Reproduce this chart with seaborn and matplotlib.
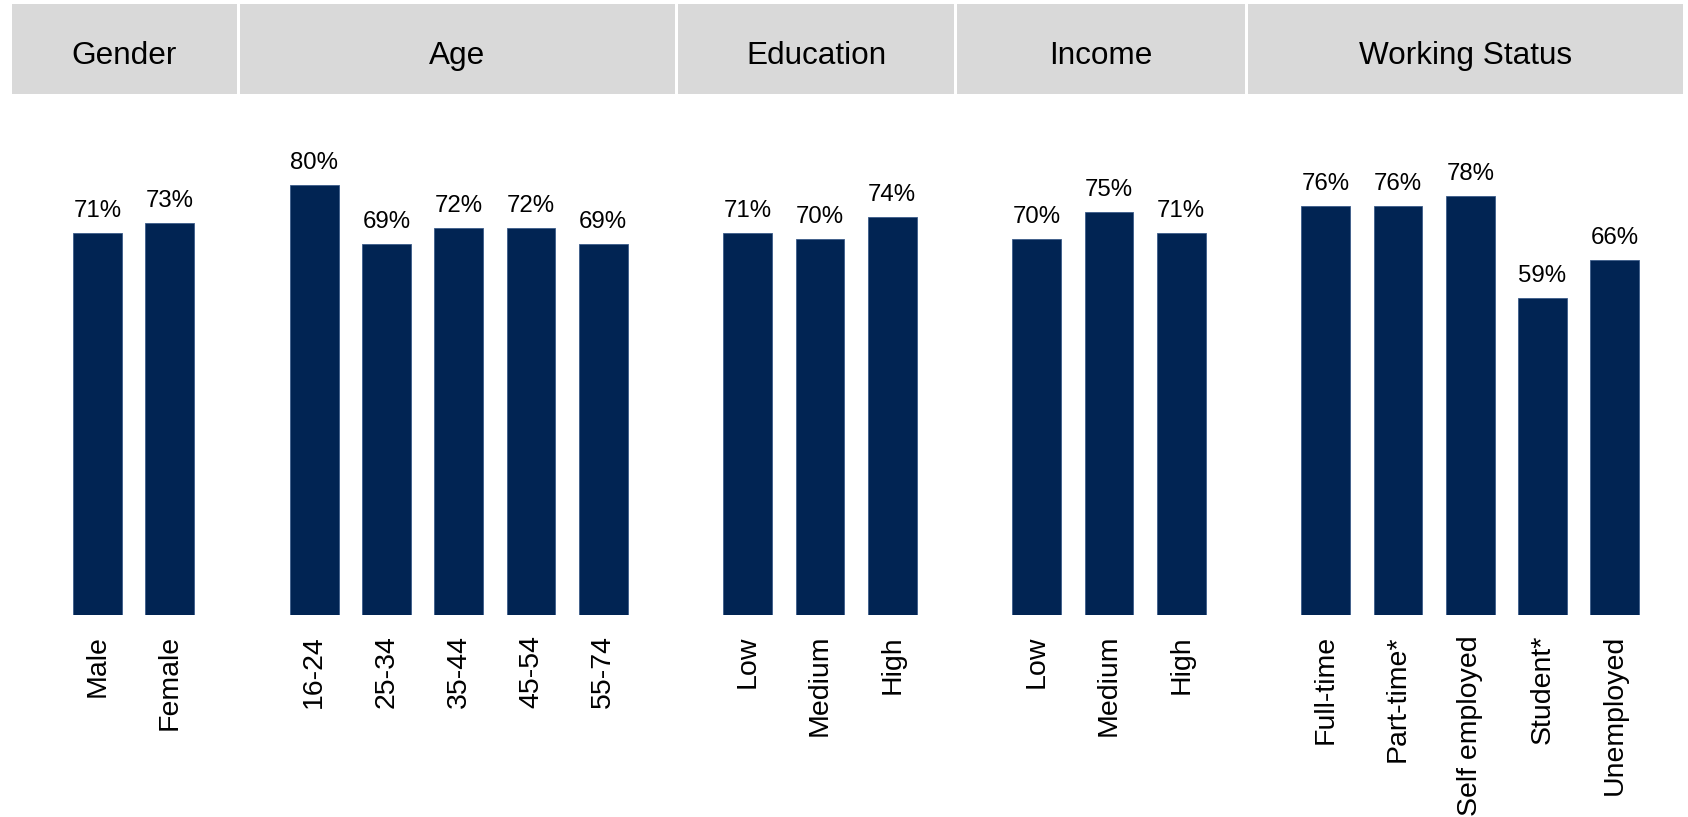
import matplotlib
matplotlib.use("Agg")
import matplotlib.pyplot as plt
from matplotlib.patches import Rectangle
import seaborn as sns
import pandas as pd

# Share of respondents (%) by demographic group
groups = ["Gender", "Age", "Education", "Income", "Working Status"]
gender_labels = ["Male", "Female"]
gender_values = [71, 73]
age_labels = ["16-24", "25-34", "35-44", "45-54", "55-74"]
age_values = [80, 69, 72, 72, 69]
education_labels = ["Low", "Medium", "High"]
education_values = [71, 70, 74]
income_labels = ["Low", "Medium", "High"]
income_values = [70, 75, 71]
work_labels = ["Full-time", "Part-time*", "Self employed", "Student*", "Unemployed"]
work_values = [76, 76, 78, 59, 66]

group_labels = [gender_labels, age_labels, education_labels, income_labels, work_labels]
group_values = [gender_values, age_values, education_values, income_values, work_values]

BAR_COLOR = "#012453"
HEADER_BG = "#D9D9D9"

# Long table with unique keys; an empty slot separates consecutive groups
rows, order, tick_text = [], [], []
for gi, (g, labs, vals) in enumerate(zip(groups, group_labels, group_values)):
    if gi > 0:
        order.append(f"gap{gi}")
        tick_text.append("")
    for lab, v in zip(labs, vals):
        key = f"{g}|{lab}"
        rows.append({"key": key, "value": v, "group": g, "label": lab})
        order.append(key)
        tick_text.append(lab)
df = pd.DataFrame(rows)

sns.set_style("white")
plt.rcParams["font.family"] = ["Liberation Sans", "DejaVu Sans"]

W, H = 1688, 817
fig = plt.figure(figsize=(W / 100, H / 100), dpi=100)

# Axes spans full width; baseline sits 615 px from the top
base_px = 615
ymax = 100
px_per_unit = 5.375
ax = fig.add_axes([0, (H - base_px) / H, 1, ymax * px_per_unit / H])

sns.barplot(data=df, x="key", y="value", order=order, color=BAR_COLOR,
            width=0.674, saturation=1, ax=ax, edgecolor="#3c5c8a", linewidth=0.6)

slot = 72.25
first_center = 97.5
ax.set_xlim(-first_center / slot, (W - first_center) / slot)
ax.set_ylim(0, ymax)

ax.set_xticks(range(len(order)))
ax.set_xticklabels(tick_text, rotation=90, fontsize=20.5, color="black")
ax.tick_params(axis="x", length=0, pad=14.4)
ax.set_yticks([])
ax.set_xlabel("")
ax.set_ylabel("")
for s in ax.spines.values():
    s.set_visible(False)
ax.patch.set_alpha(0)

# Value labels above each bar
for container in ax.containers:
    for bar in container:
        h = bar.get_height()
        if h != h or h == 0:
            continue
        ax.annotate(f"{h:.0f}%", (bar.get_x() + bar.get_width() / 2, h),
                    xytext=(0, 16), textcoords="offset pixels",
                    ha="center", va="baseline", fontsize=17.3, color="black")

# Header band with one grey cell per group
header_edges = [(12, 237), (240, 675), (678, 954), (957, 1245), (1248, 1683)]
top_px, bottom_px = 4, 94
text_baseline_px = 64
for g, (x0, x1) in zip(groups, header_edges):
    fig.patches.append(Rectangle((x0 / W, 1 - bottom_px / H), (x1 - x0) / W,
                                 (bottom_px - top_px) / H, transform=fig.transFigure,
                                 facecolor=HEADER_BG, edgecolor="none", zorder=0))
    fig.text((x0 + x1) / 2 / W, 1 - text_baseline_px / H, g,
             ha="center", va="baseline", fontsize=22.7, color="black")

fig.savefig("out.png", dpi=100)
